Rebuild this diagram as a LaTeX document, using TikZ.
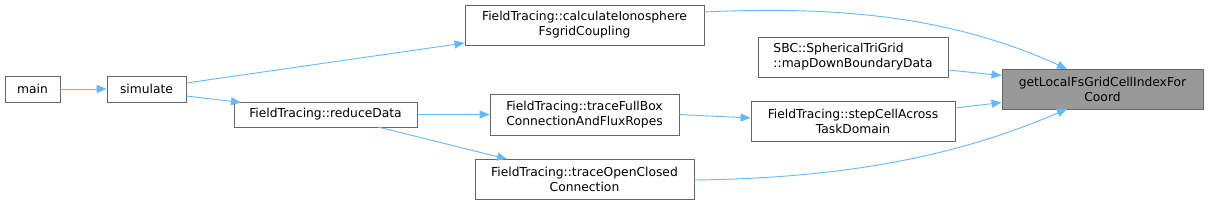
\documentclass[tikz,border=0pt]{standalone}
\usepackage{fontspec}
\setmainfont{DejaVu Sans}
\usetikzlibrary{arrows.meta}
\definecolor{edgeblue}{HTML}{63B8FF}
\definecolor{boxgray}{HTML}{666666}
\definecolor{fillgray}{HTML}{999999}
\begin{document}
\begin{tikzpicture}[x=1pt,y=-1pt,
  fn/.style={draw=boxgray,line width=0.9pt,fill=white,inner sep=0pt,align=center,
    font=\fontsize{12.3}{15}\selectfont,text=black},
  edge/.style={draw=edgeblue,line width=0.9pt,-{Triangle[length=10pt,width=8pt]}},
]
\useasboundingbox (0,0) rectangle (1208,204);
\node[fn,minimum width=55pt,minimum height=26pt] (main) at (32.5,89) {main};
\node[fn,minimum width=79pt,minimum height=26pt] (sim) at (146.5,89) {simulate};
\node[fn,minimum width=183pt,minimum height=25pt] (red) at (325.5,114.5) {FieldTracing::reduceData};
\node[fn,minimum width=239pt,minimum height=40pt] (calc) at (584.5,25) {FieldTracing::calculateIonosphere\\FsgridCoupling};
\node[fn,minimum width=189pt,minimum height=41pt] (full) at (584.5,114.5) {FieldTracing::traceFullBox\\ConnectionAndFluxRopes};
\node[fn,minimum width=219pt,minimum height=40pt] (open) at (584.5,179) {FieldTracing::traceOpenClosed\\Connection};
\node[fn,align=left,minimum width=190pt,minimum height=40pt] (sbc) at (853,57) {SBC::SphericalTriGrid\\::mapDownBoundaryData};
\node[fn,minimum width=204pt,minimum height=40pt] (step) at (853,121) {FieldTracing::stepCellAcross\\TaskDomain};
\node[fn,fill=fillgray,minimum width=201pt,minimum height=40pt] (get) at (1102.5,89) {getLocalFsGridCellIndexFor\\Coord};

\draw[edge] (main.east) -- (sim.west);
\draw[edge] (sim.east |- 0,83) -- (calc.west |- 0,43);
\draw[edge] (sim.east |- 0,96) -- (241,102.5);
\draw[edge] (red.east) -- (full.west);
\draw[edge] (378,127) -- (507,159);
\draw[edge] (full.east) -- (step.west |- 0,118);
\draw[edge] (calc.east |- 0,12) .. controls (850,5) and (960,20) .. (1067,69);
\draw[edge] (sbc.east |- 0,70) -- (get.west |- 0,75.5);
\draw[edge] (step.east |- 0,108) -- (get.west |- 0,102.5);
\draw[edge] (open.east |- 0,180) .. controls (850,178) and (960,155) .. (1067,109);
\end{tikzpicture}
\end{document}
